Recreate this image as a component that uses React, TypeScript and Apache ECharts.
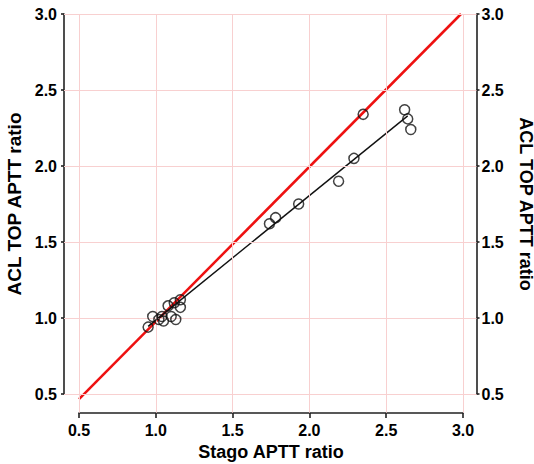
import React, { useEffect, useRef } from "react";
import * as echarts from "echarts";

const stagoRatio = [0.95, 0.98, 1.02, 1.04, 1.05, 1.08, 1.10, 1.12, 1.13, 1.16, 1.16, 1.74, 1.78, 1.93, 2.19, 2.29, 2.35, 2.62, 2.64, 2.66];
const aclRatio = [0.94, 1.01, 0.99, 1.01, 0.98, 1.08, 1.01, 1.10, 0.99, 1.12, 1.07, 1.62, 1.66, 1.75, 1.90, 2.05, 2.34, 2.37, 2.31, 2.24];
const identityLine = [[0.5, 0.467], [2.987, 3.0]];
const regressionLine = [[0.95, 0.945], [2.64, 2.33]];
const tickValues = [0.5, 1.0, 1.5, 2.0, 2.5, 3.0];

const FONT = "'Liberation Sans', Arial, sans-serif";

export default function App() {
  const ref = useRef<HTMLDivElement>(null);
  useEffect(() => {
    if (!ref.current) return;
    const chart = echarts.init(ref.current, undefined, { renderer: "svg" });
    const labelStyle = { color: "#000", fontWeight: "bold" as const, fontSize: 16, fontFamily: FONT };
    const nameStyle = { color: "#000", fontWeight: "bold" as const, fontSize: 18, fontFamily: FONT };
    const axisLine = { show: true, lineStyle: { color: "#222", width: 1.6 } };
    const gridColor = "#f8d0d0";
    const points = stagoRatio.map((x, i) => [x, aclRatio[i]]);
    chart.setOption({
      animation: false,
      backgroundColor: "#fff",
      grid: [
        { left: 79, right: 71, top: 14, bottom: 70, containLabel: false, outerBoundsMode: "none" },
        { left: 64, right: 57.5, top: 14, bottom: 51.3, containLabel: false, outerBoundsMode: "none" },
      ],
      xAxis: [
        {
          gridIndex: 0, type: "value", min: 0.5, max: 3.0, interval: 0.5, position: "bottom", offset: 19,
          axisLine, axisTick: { show: true, length: 5, lineStyle: { color: "#222", width: 1.6 } },
          axisLabel: { ...labelStyle, margin: 9, formatter: (v: number) => v.toFixed(1) },
          splitLine: { show: false },
          name: "Stago APTT ratio", nameLocation: "middle", nameGap: 28, nameTextStyle: nameStyle,
        },
        { gridIndex: 1, type: "value", min: 0.5 - 15 / 153.6, max: 3.0 + 13.5 / 153.6, show: false, splitLine: { show: false } },
      ],
      yAxis: [
        {
          gridIndex: 0, type: "value", min: 0.5, max: 3.0, interval: 0.5, position: "left", offset: 15,
          axisLine, axisTick: { show: true, length: 3, lineStyle: { color: "#222", width: 1.6 } },
          axisLabel: { ...labelStyle, margin: 7, formatter: (v: number) => v.toFixed(1) },
          splitLine: { show: false },
          name: "ACL TOP APTT ratio", nameLocation: "middle", nameGap: 36, nameTextStyle: { ...nameStyle, fontSize: 19 },
        },
        {
          gridIndex: 0, type: "value", min: 0.5, max: 3.0, interval: 0.5, position: "right", offset: 13.5,
          axisLine, axisTick: { show: true, length: 3, lineStyle: { color: "#222", width: 1.6 } },
          axisLabel: { ...labelStyle, margin: 5, formatter: (v: number) => v.toFixed(1) },
          splitLine: { show: false },
          name: "ACL TOP APTT ratio", nameLocation: "middle", nameGap: 40, nameRotate: -90, nameTextStyle: { ...nameStyle, fontSize: 18 },
        },
        { gridIndex: 1, type: "value", min: 0.5 - 18.7 / 152, max: 3.0, show: false, splitLine: { show: false } },
      ],
      series: [
        {
          type: "scatter", xAxisIndex: 1, yAxisIndex: 2, data: [], silent: true,
          markLine: {
            silent: true, symbol: "none", animation: false, label: { show: false },
            lineStyle: { color: gridColor, width: 1, type: "solid" },
            data: [
              ...tickValues.map((v) => ({ xAxis: v })),
              ...tickValues.map((v) => ({ yAxis: v })),
            ],
          },
        },
        {
          type: "line", xAxisIndex: 0, yAxisIndex: 0, data: identityLine, symbol: "none", clip: false,
          lineStyle: { color: "#ee1111", width: 2.5 }, silent: true, z: 3,
        },
        {
          type: "line", xAxisIndex: 0, yAxisIndex: 0, data: regressionLine, symbol: "none", clip: false,
          lineStyle: { color: "#111", width: 1.4 }, silent: true, z: 4,
        },
        {
          type: "scatter", xAxisIndex: 0, yAxisIndex: 0, data: points, symbol: "circle", symbolSize: 10, clip: false,
          itemStyle: { color: "rgba(255,255,255,0)", borderColor: "#111", borderWidth: 1.5 }, z: 5,
        },
      ],
    });
    return () => chart.dispose();
  }, []);
  return <div ref={ref} style={{ position: "absolute", left: 0, top: 0, width: 534, height: 464 }} />;
}
